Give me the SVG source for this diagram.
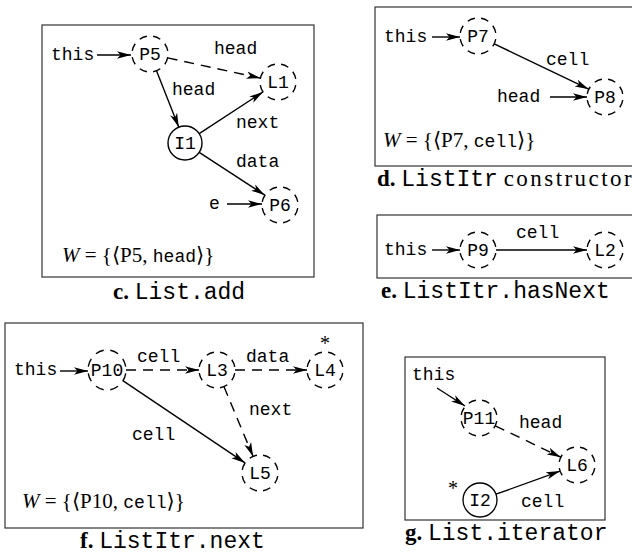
<svg xmlns="http://www.w3.org/2000/svg" width="632" height="556" viewBox="0 0 632 556">
<style>
.bg{fill:#fff}
.box{fill:none;stroke:#333;stroke-width:1.2}
.tt{font-family:"Liberation Mono","DejaVu Sans Mono",monospace;font-size:18px;fill:#000}
.nl{font-family:"Liberation Mono","DejaVu Sans Mono",monospace;font-size:18px;fill:#000;text-anchor:middle}
.math{font-family:"Liberation Serif","DejaVu Serif",serif;font-size:21px;fill:#000}
.cap{font-family:"Liberation Serif","DejaVu Serif",serif;font-size:23px;fill:#000}
.capb{font-weight:bold}
.captt{font-family:"Liberation Mono","DejaVu Sans Mono",monospace}
.ast{font-family:"Liberation Serif","DejaVu Serif",serif;font-size:20px;fill:#000;text-anchor:middle}
.dn{fill:#fff;stroke:#000;stroke-width:1.4;stroke-dasharray:5.5 4.5;stroke-dashoffset:7.75}
.sn{fill:#fff;stroke:#000;stroke-width:1.4}
.e{fill:none;stroke:#000;stroke-width:1.4;marker-end:url(#ah)}
.d{stroke-dasharray:10 7}
</style>
<defs>
<marker id="ah" markerUnits="userSpaceOnUse" markerWidth="15" markerHeight="9" refX="14" refY="4.5" orient="auto">
<path d="M0,0.8 L14,4.5 L0,8.2 L3.5,4.5 z" fill="#000"/>
</marker>
</defs>
<rect class="bg" x="0" y="0" width="632" height="556"/>

<!-- Panel c -->
<g id="panel-c">
<rect class="box" x="42" y="25" width="272" height="252"/>
<text class="math" x="62" y="262"><tspan font-style="italic">W</tspan> = {⟨P5, <tspan class="tt">head</tspan>⟩}</text>
<text class="cap" x="113" y="299"><tspan class="capb">c.</tspan> <tspan class="captt">List.add</tspan></text>
</g>
<g id="c-this"><text class="tt" x="51" y="60">this</text></g>
<g id="c-e"><text class="tt" x="209" y="209">e</text></g>
<g id="c-P5"><circle class="dn" pathLength="80" cx="150" cy="54" r="18"/><text class="nl" x="150" y="60">P5</text></g>
<g id="c-L1"><circle class="dn" pathLength="80" cx="278" cy="82" r="18"/><text class="nl" x="278" y="88">L1</text></g>
<g id="c-I1"><circle class="sn" cx="185" cy="143" r="17"/><text class="nl" x="185" y="149">I1</text></g>
<g id="c-P6"><circle class="dn" pathLength="80" cx="280" cy="205" r="18"/><text class="nl" x="280" y="211">P6</text></g>

<!-- Panel d -->
<g id="panel-d">
<rect class="box" x="375" y="7" width="270" height="159"/>
<text class="math" x="383" y="147"><tspan font-style="italic">W</tspan> = {⟨P7, <tspan class="tt">cell</tspan>⟩}</text>
<text class="cap" x="377" y="186"><tspan class="capb">d.</tspan> <tspan class="captt">ListItr</tspan> <tspan textLength="128">constructor</tspan></text>
</g>
<g id="d-this"><text class="tt" x="384" y="42">this</text></g>
<g id="d-head"><text class="tt" x="497" y="102">head</text></g>
<g id="d-P7"><circle class="dn" pathLength="80" cx="478" cy="36" r="18"/><text class="nl" x="478" y="42">P7</text></g>
<g id="d-P8"><circle class="dn" pathLength="80" cx="605" cy="97" r="18"/><text class="nl" x="605" y="103">P8</text></g>

<!-- Panel e -->
<g id="panel-e">
<rect class="box" x="377" y="215" width="270" height="63"/>
<text class="cap" x="381" y="298"><tspan class="capb">e.</tspan> <tspan class="captt">ListItr.hasNext</tspan></text>
</g>
<g id="e-this"><text class="tt" x="384" y="255">this</text></g>
<g id="e-P9"><circle class="dn" pathLength="80" cx="478" cy="250" r="18"/><text class="nl" x="478" y="256">P9</text></g>
<g id="e-L2"><circle class="dn" pathLength="80" cx="605" cy="250" r="18"/><text class="nl" x="605" y="256">L2</text></g>

<!-- Panel f -->
<g id="panel-f">
<rect class="box" x="5" y="323" width="358" height="205"/>
<text class="math" x="22" y="508"><tspan font-style="italic">W</tspan> = {⟨P10, <tspan class="tt">cell</tspan>⟩}</text>
<text class="cap" x="80" y="548"><tspan class="capb">f.</tspan> <tspan class="captt">ListItr.next</tspan></text>
</g>
<g id="f-this"><text class="tt" x="14" y="375">this</text></g>
<g id="f-P10"><ellipse class="dn" pathLength="80" cx="107" cy="370" rx="19" ry="20"/><text class="nl" x="107" y="376">P10</text></g>
<g id="f-L3"><circle class="dn" pathLength="80" cx="217" cy="370" r="18"/><text class="nl" x="217" y="376">L3</text></g>
<g id="f-L4"><circle class="dn" pathLength="80" cx="325" cy="370" r="18"/><text class="nl" x="325" y="376">L4</text><text class="ast" x="325" y="350">*</text></g>
<g id="f-L5"><circle class="dn" pathLength="80" cx="260" cy="473" r="18"/><text class="nl" x="260" y="479">L5</text></g>

<!-- Panel g -->
<g id="panel-g">
<rect class="box" x="405" y="357" width="200" height="163"/>
<text class="cap" x="405" y="540"><tspan class="capb">g.</tspan> <tspan class="captt">List.iterator</tspan></text>
</g>
<g id="g-this"><text class="tt" x="412" y="380">this</text></g>
<g id="g-P11"><circle class="dn" pathLength="80" cx="479" cy="418" r="18"/><text class="nl" x="479" y="424">P11</text></g>
<g id="g-L6"><circle class="dn" pathLength="80" cx="577" cy="465" r="18"/><text class="nl" x="577" y="471">L6</text></g>
<g id="g-I2"><circle class="sn" cx="480" cy="500" r="17"/><text class="nl" x="480" y="506">I2</text><text class="ast" x="453" y="495">*</text></g>

<!-- Connectors -->
<g id="connectors">
<line class="e" x1="97" y1="55" x2="131" y2="55"/>
<line class="e d" x1="167.6" y1="57.9" x2="260.4" y2="78.1"/>
<text class="tt" x="214" y="54">head</text>
<line class="e" x1="156.5" y1="70.8" x2="178.8" y2="127.2"/>
<text class="tt" x="172" y="95">head</text>
<line class="e" x1="199.2" y1="133.7" x2="263" y2="91.9"/>
<text class="tt" x="236" y="128">next</text>
<line class="e" x1="199.2" y1="152.3" x2="264.9" y2="195.2"/>
<text class="tt" x="236" y="167">data</text>
<line class="e" x1="227" y1="204" x2="262" y2="204"/>

<line class="e" x1="432" y1="37" x2="460" y2="37"/>
<line class="e" x1="494.2" y1="43.8" x2="588.8" y2="89.2"/>
<text class="tt" x="546" y="65">cell</text>
<line class="e" x1="550" y1="97" x2="587" y2="97"/>

<line class="e" x1="432" y1="250" x2="460" y2="250"/>
<line class="e" x1="496" y1="250" x2="587" y2="250"/>
<text class="tt" x="516" y="238">cell</text>

<line class="e" x1="60" y1="371" x2="88" y2="371"/>
<line class="e d" x1="126" y1="370" x2="199" y2="370"/>
<text class="tt" x="137" y="362">cell</text>
<line class="e d" x1="235" y1="370" x2="307" y2="370"/>
<text class="tt" x="246" y="362">data</text>
<line class="e d" x1="223.9" y1="386.6" x2="253.1" y2="456.4"/>
<text class="tt" x="249" y="415">next</text>
<line class="e" x1="122.8" y1="380.6" x2="245.1" y2="462.9"/>
<text class="tt" x="132" y="440">cell</text>

<line class="e" x1="437" y1="388" x2="465" y2="406"/>
<line class="e d" x1="495.2" y1="425.8" x2="560.8" y2="457.2"/>
<text class="tt" x="519" y="428">head</text>
<line class="e" x1="496" y1="494.2" x2="560.1" y2="471.1"/>
<text class="tt" x="521" y="507">cell</text>
</g>
</svg>
